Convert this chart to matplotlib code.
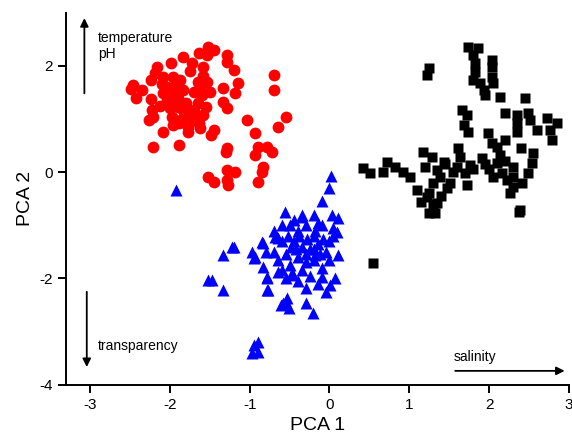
import matplotlib
matplotlib.use('Agg')
import matplotlib.pyplot as plt

plt.rcParams['font.family'] = ['Liberation Sans', 'DejaVu Sans']
plt.rcParams['axes.unicode_minus'] = False

# red circles
red_x = [-2.46, -2.49, -2.42, -2.24, -2.16, -2.18, -2.08, -1.99, -1.96, -1.84,
         -2.24, -2.22, -2.21, -2.26, -2.08, -2.03, -2.03, -1.96, -1.87, -1.83,
         -1.90, -1.83, -1.97, -1.96, -1.89, -2.08, -2.21, -1.89, -1.77, -1.77,
         -1.70, -1.65, -1.72, -1.64, -1.53, -1.52, -1.45, -1.58, -1.65, -1.62,
         -1.53, -1.55, -1.59, -1.64, -1.62, -1.45, -1.49, -1.28, -1.28, -1.20,
         -1.14, -1.18, -1.33, -1.33, -1.28, -1.28, -1.30, -1.03, -0.93, -0.90,
         -0.93, -0.78, -0.72, -0.83, -0.84, -0.90, -0.70, -0.70, -0.65, -0.55,
         -1.28, -1.18, -1.28, -1.27, -1.52, -1.45, -1.90, -1.80, -2.00, -1.70,
         -1.50, -2.10, -1.75, -2.35, -1.95, -1.60, -1.75, -1.68, -1.85, -1.58,
         -2.12, -1.92]
red_y = [1.64, 1.56, 1.39, 1.73, 1.97, 1.86, 1.79, 2.05, 1.79, 2.16,
         1.37, 1.17, 1.03, 0.98, 1.48, 1.60, 1.35, 1.35, 1.73, 1.54,
         1.22, 1.17, 1.03, 0.88, 0.92, 0.75, 0.47, 0.51, 0.85, 0.75,
         1.17, 1.30, 2.05, 2.24, 2.20, 2.35, 2.29, 1.97, 1.69, 1.60,
         1.69, 1.22, 1.07, 0.92, 0.83, 0.79, 0.70, 2.20, 2.07, 1.92,
         1.67, 1.48, 1.58, 1.32, 1.20, 0.45, 0.38, 0.98, 0.73, 0.47,
         0.32, 0.47, 0.38, 0.09, 0.00, -0.19, 1.82, 1.54, 0.85, 1.03,
         0.04, 0.00, -0.15, -0.24, -0.09, -0.19, 1.40, 1.30, 1.20, 1.50,
         1.50, 1.65, 1.90, 1.55, 1.50, 1.45, 1.05, 0.98, 1.00, 1.80,
         1.25, 1.65]

# blue triangles
blue_x = [-1.92, 0.02, 0.00, -0.09, -0.56, -0.34, -0.20, 0.03, 0.11, 0.10,
          -0.68, -0.84, 0.11, -0.18, -0.64, -0.46, -0.78, -0.77, -0.55, -0.61,
          -0.51, -0.30, -0.30, -0.21, -0.05, 0.07, 0.01, -0.09, -0.89, -0.90,
          -1.47, -1.52, -1.33, -0.95, -0.97, -1.22, -1.33, -0.97, -0.93, -1.20,
          -0.95, -0.83, -0.65, -0.83, -0.78, -0.47, -0.78, -0.58, -0.53,
          -0.50, -0.40, -0.30, -0.20, -0.10, 0.00, -0.60, -0.45, -0.35, -0.25,
          -0.15, -0.05, -0.55, -0.40, -0.30, -0.20, -0.10, -0.70, -0.65, -0.50,
          -0.35, -0.25, -0.45, -0.35, -0.15, 0.05, 0.05, -0.70, -0.80, -0.60,
          -0.42, -0.28, -0.12, 0.00, -0.52, -0.38, -0.48, -0.18, -0.08, -0.60,
          -0.30, -0.20, -0.55, -0.40, -0.15]
blue_y = [-0.34, -0.08, -0.30, -0.55, -0.75, -0.81, -0.81, -0.81, -0.86, -1.13,
          -1.22, -1.32, -1.56, -1.56, -1.88, -1.94, -1.99, -2.22, -2.44, -2.50,
          -2.56, -2.18, -2.46, -2.65, -2.26, -1.99, -2.12, -1.97, -3.20, -3.38,
          -2.03, -2.03, -2.22, -3.25, -3.40, -1.41, -1.56, -1.50, -1.60, -1.41,
          -1.62, -1.34, -1.24, -1.79, -1.97, -1.90, -2.22, -2.46, -2.37,
          -1.00, -1.10, -1.00, -1.20, -1.00, -1.30, -1.30, -1.30, -1.40, -1.45,
          -1.35, -1.50, -1.55, -1.60, -1.70, -1.65, -1.80, -1.50, -1.65, -1.75,
          -1.85, -1.95, -0.90, -0.85, -0.95, -1.05, -1.20, -1.10, -1.50, -1.85,
          -1.45, -1.25, -1.55, -1.65, -1.20, -1.20, -1.40, -1.10, -1.25, -1.00,
          -1.55, -1.45, -2.00, -2.05, -2.10]

# black squares
black_x = [1.74, 1.86, 1.80, 1.82, 2.04, 2.04, 1.24, 1.22, 1.82, 1.80,
           1.89, 1.93, 1.95, 2.04, 2.05, 2.14, 2.45, 1.66, 1.72, 1.68,
           1.74, 2.20, 2.35, 2.48, 2.51, 2.35, 2.35, 2.73, 2.85, 2.76,
           2.79, 1.99, 2.04, 2.10, 2.14, 2.10, 2.16, 2.22, 2.30, 2.26,
           2.41, 2.48, 2.55, 2.54, 2.37, 1.61, 1.64, 1.76, 1.70, 1.72,
           1.91, 1.17, 1.29, 1.43, 1.35, 1.39, 1.51, 1.47, 1.10, 1.14,
           1.22, 1.35, 1.24, 1.32, 0.72, 0.67, 0.82, 0.92, 1.01, 0.42,
           0.51, 0.55, 2.39, 1.30, 1.25, 1.40, 1.55, 1.60, 1.80, 1.95,
           2.00, 2.05, 2.20, 2.30, 2.30, 1.45, 1.20, 1.30, 2.20, 2.40, 2.60]
black_y = [2.35, 2.33, 2.20, 2.05, 2.11, 1.97, 1.95, 1.82, 1.88, 1.73,
           1.67, 1.54, 1.45, 1.79, 1.67, 1.41, 1.39, 1.17, 1.07, 0.88,
           0.75, 1.11, 1.07, 1.11, 0.98, 0.92, 0.75, 1.01, 0.92, 0.79,
           0.60, 0.73, 0.54, 0.47, 0.32, 0.17, -0.02, -0.15, -0.28, -0.39,
           -0.21, -0.02, 0.36, 0.17, -0.75, 0.45, 0.28, 0.13, -0.02, -0.24,
           0.26, 0.38, 0.28, 0.19, 0.04, -0.09, -0.21, -0.30, -0.34, -0.56,
           -0.47, -0.58, -0.77, -0.77, 0.19, 0.00, 0.09, 0.00, -0.09, 0.08,
           -0.02, -1.71, -0.71, -0.20, -0.40, -0.45, 0.00, 0.10, 0.05, 0.15,
           0.05, -0.10, 0.20, 0.10, -0.10, 0.15, 0.10, -0.60, 0.60, 0.45, 0.80]

fig = plt.figure(figsize=(5.72, 4.41), dpi=100)
ax = fig.add_axes([0.1154, 0.1277, 0.8794, 0.8435])

ax.plot(red_x, red_y, 'o', color='#ff0000', ms=8.5, mec='none')
ax.plot(blue_x, blue_y, '^', color='#0000ff', ms=8.5, mec='none')
ax.plot(black_x, black_y, 's', color='black', ms=6.5, mec='none')

ax.set_xlim(-3.3, 3.0)
ax.set_ylim(-4, 3)
ax.set_xticks([-3, -2, -1, 0, 1, 2, 3])
ax.set_yticks([-4, -2, 0, 2])
ax.spines['top'].set_visible(False)
ax.spines['right'].set_visible(False)
ax.spines['left'].set_linewidth(1.4)
ax.spines['bottom'].set_linewidth(1.4)
ax.tick_params(direction='out', length=6, width=1.4, labelsize=11)
ax.set_xlabel('PCA 1', fontsize=14)
ax.set_ylabel('PCA 2', fontsize=14)

arr = dict(arrowstyle='-|>', color='black', lw=1.3, mutation_scale=12)
ax.annotate('', xy=(-3.07, 2.95), xytext=(-3.07, 1.43), arrowprops=arr, annotation_clip=False)
ax.annotate('', xy=(-3.04, -3.72), xytext=(-3.04, -2.2), arrowprops=arr, annotation_clip=False)
ax.annotate('', xy=(2.98, -3.74), xytext=(1.54, -3.74), arrowprops=arr, annotation_clip=False)
ax.text(-2.9, 2.37, 'temperature\npH', fontsize=10, va='center', linespacing=1.2)
ax.text(-2.9, -3.27, 'transparency', fontsize=10, va='center')
ax.text(1.55, -3.47, 'salinity', fontsize=10, va='center')

fig.savefig('out.png', dpi=100)
